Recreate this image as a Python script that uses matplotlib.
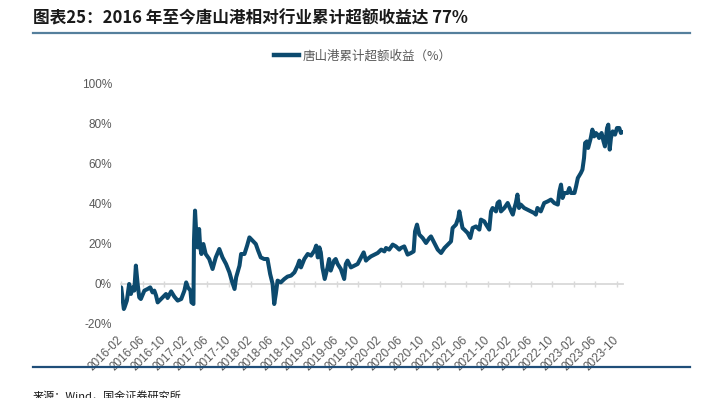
import matplotlib
matplotlib.use("Agg")
import matplotlib.pyplot as plt
import matplotlib.dates as mdates
from matplotlib.lines import Line2D
import pandas as pd

dates = [
    "2016-02-01", "2016-02-16", "2016-02-20", "2016-03-04", "2016-03-17", "2016-03-27",
    "2016-04-06", "2016-04-15", "2016-04-24", "2016-05-04", "2016-05-13", "2016-05-22",
    "2016-06-11", "2016-06-29", "2016-07-14", "2016-07-27", "2016-08-06", "2016-08-16",
    "2016-08-25", "2016-09-13", "2016-09-22", "2016-10-11", "2016-10-20", "2016-11-09",
    "2016-11-27", "2016-12-16", "2017-01-05", "2017-01-23", "2017-02-02", "2017-02-12",
    "2017-02-26", "2017-03-04", "2017-03-15", "2017-03-18", "2017-03-24", "2017-03-30",
    "2017-04-07", "2017-04-16", "2017-04-22", "2017-04-29", "2017-05-10", "2017-05-23",
    "2017-06-12", "2017-07-01", "2017-07-19", "2017-08-08", "2017-08-26", "2017-09-15",
    "2017-10-04", "2017-10-17", "2017-11-02", "2017-11-11", "2017-11-30", "2017-12-09",
    "2017-12-28", "2018-01-12", "2018-01-25", "2018-02-14", "2018-03-02", "2018-03-15",
    "2018-03-30", "2018-04-18", "2018-05-07", "2018-05-22", "2018-06-05", "2018-06-14",
    "2018-06-23", "2018-07-03", "2018-07-21", "2018-08-10", "2018-08-28", "2018-09-17",
    "2018-10-06", "2018-10-24", "2018-11-03", "2018-11-12", "2018-12-01", "2018-12-20",
    "2019-01-08", "2019-01-27", "2019-02-06", "2019-02-15", "2019-02-24", "2019-03-04",
    "2019-03-13", "2019-03-26", "2019-04-11", "2019-04-20", "2019-04-29", "2019-05-18",
    "2019-05-27", "2019-06-07", "2019-06-25", "2019-07-14", "2019-07-23", "2019-08-02",
    "2019-08-21", "2019-09-10", "2019-09-28", "2019-10-17", "2019-11-01", "2019-11-14",
    "2019-11-23", "2019-12-12", "2020-01-01", "2020-01-19", "2020-02-08", "2020-02-26",
    "2020-03-06", "2020-03-24", "2020-04-13", "2020-05-01", "2020-05-20", "2020-05-29",
    "2020-06-17", "2020-07-06", "2020-07-25", "2020-08-09", "2020-08-17", "2020-08-28",
    "2020-09-10", "2020-09-29", "2020-10-18", "2020-11-06", "2020-11-15", "2020-12-04",
    "2020-12-23", "2021-01-11", "2021-01-30", "2021-02-18", "2021-03-08", "2021-03-17",
    "2021-04-05", "2021-04-18", "2021-04-24", "2021-05-03", "2021-05-12", "2021-05-22",
    "2021-06-10", "2021-06-25", "2021-07-08", "2021-07-27", "2021-08-15", "2021-08-24",
    "2021-09-12", "2021-09-22", "2021-10-10", "2021-10-20", "2021-10-29", "2021-11-17",
    "2021-11-26", "2021-12-06", "2021-12-15", "2022-01-03", "2022-01-22", "2022-02-11",
    "2022-02-20", "2022-03-01", "2022-03-09", "2022-03-18", "2022-03-27", "2022-04-06",
    "2022-04-25", "2022-05-13", "2022-06-02", "2022-06-20", "2022-06-30", "2022-07-09",
    "2022-07-28", "2022-08-16", "2022-09-05", "2022-09-23", "2022-10-12", "2022-11-01",
    "2022-11-10", "2022-11-19", "2022-11-28", "2022-12-08", "2022-12-26", "2023-01-05",
    "2023-01-14", "2023-02-03", "2023-02-12", "2023-02-22", "2023-03-11", "2023-03-20",
    "2023-03-29", "2023-04-04", "2023-04-14", "2023-04-21", "2023-05-06", "2023-05-15",
    "2023-05-25", "2023-06-04", "2023-06-13", "2023-06-22", "2023-07-06", "2023-07-17",
    "2023-07-25", "2023-08-06", "2023-08-13", "2023-08-21", "2023-08-28", "2023-09-07",
    "2023-09-20", "2023-10-01", "2023-10-14", "2023-10-23", "2023-11-02",
]

excess_return = [
    -1.7, -12.5, -11.7, -8.3, 0.0, -5.0,
    -1.7, -3.3, 9.2, 0.0, -6.7, -7.5,
    -3.3, -2.5, -1.7, -4.2, -3.3, -5.8,
    -9.2, -7.5, -6.7, -5.0, -7.0, -3.7,
    -6.3, -8.3, -7.5, -3.3, 0.8, -1.7,
    -3.3, -9.2, -10.0, 21.7, 36.7, 26.7,
    18.3, 27.5, 18.3, 15.0, 20.0, 15.0,
    12.5, 7.5, 13.3, 17.5, 13.3, 10.0,
    5.8, 1.7, -2.5, 3.3, 9.2, 15.0,
    15.0, 19.2, 23.3, 21.5, 20.0, 16.7,
    13.3, 12.5, 12.5, 5.0, 0.0, -10.0,
    -5.0, 1.7, 0.8, 2.5, 3.7, 4.2,
    5.8, 9.2, 11.7, 8.3, 12.5, 15.0,
    14.2, 16.7, 19.2, 13.3, 18.3, 15.8,
    8.3, 2.5, 8.3, 12.5, 6.7, 11.7,
    12.5, 10.0, 7.5, 2.5, 10.0, 11.7,
    8.3, 9.2, 10.0, 13.3, 15.8, 11.7,
    12.5, 13.8, 14.7, 15.5, 17.2, 16.3,
    18.0, 17.2, 19.7, 18.8, 17.2, 18.0,
    18.8, 14.7, 15.5, 16.3, 26.3, 29.7,
    24.7, 23.0, 20.5, 23.0, 23.8, 20.5,
    17.2, 15.5, 18.0, 19.7, 21.3, 28.0,
    29.7, 33.0, 36.3, 32.2, 28.0, 27.2,
    25.5, 23.0, 28.0, 28.8, 27.2, 32.2,
    31.3, 29.7, 27.2, 36.3, 38.0, 36.3,
    40.5, 41.3, 36.3, 38.0, 40.5, 36.3,
    34.7, 38.0, 40.5, 44.7, 38.0, 39.7,
    38.0, 37.2, 36.3, 35.5, 34.7, 38.0,
    36.3, 40.5, 41.3, 42.2, 40.5, 39.7,
    46.3, 49.7, 43.0, 45.5, 45.5, 48.0,
    45.5, 45.5, 48.8, 53.0, 55.5, 57.2,
    63.0, 70.5, 71.3, 68.0, 73.0, 77.2,
    73.8, 75.5, 74.7, 73.0, 75.5, 71.3,
    68.8, 78.0, 79.7, 67.2, 73.0, 76.3,
    74.7, 78.0, 78.0, 75.5, 76.0,
]

x_tick_dates = [
    "2016-02-01", "2016-06-01", "2016-10-01", "2017-02-01", "2017-06-01", "2017-10-01",
    "2018-02-01", "2018-06-01", "2018-10-01", "2019-02-01", "2019-06-01", "2019-10-01",
    "2020-02-01", "2020-06-01", "2020-10-01", "2021-02-01", "2021-06-01", "2021-10-01",
    "2022-02-01", "2022-06-01", "2022-10-01", "2023-02-01", "2023-06-01", "2023-10-01",
]
x_tick_labels = [d[:7] for d in x_tick_dates]
y_ticks = [-20, 0, 20, 40, 60, 80, 100]
y_tick_labels = ["-20%", "0%", "20%", "40%", "60%", "80%", "100%"]
series_name = "唐山港累计超额收益（%）"
title_text = "图表25：2016 年至今唐山港相对行业累计超额收益达 77%"
source_text = "来源：Wind，国金证券研究所"

x = pd.to_datetime(dates)
xt = pd.to_datetime(x_tick_dates)

LINE_COLOR = "#0c4a6e"
GREY = "#595959"
CJK = ["Noto Sans CJK SC", "DejaVu Sans"]
LAT = ["Liberation Sans", "DejaVu Sans"]

fig = plt.figure(figsize=(7.04, 3.98), dpi=100)
ax = fig.add_axes([121 / 704, 1 - 324 / 398, (623 - 121) / 704, (324 - 84) / 398])

ax.plot(x, excess_return, color=LINE_COLOR, lw=2.9, solid_joinstyle="round",
        solid_capstyle="round", zorder=3)

ax.set_xlim(pd.Timestamp("2016-01-31"), pd.Timestamp("2023-11-04"))
ax.set_ylim(-20, 100)
ax.set_yticks(y_ticks)
ax.set_yticklabels(y_tick_labels, family=LAT, fontsize=8.5, color=GREY)
ax.tick_params(axis="y", length=0, pad=6.5)

for s in ["top", "right", "left", "bottom"]:
    ax.spines[s].set_visible(False)

# date labels below the plot
ax.set_xticks(xt)
ax.set_xticklabels(x_tick_labels, rotation=45, ha="right", va="center",
                   rotation_mode="anchor", fontsize=8.5, color=GREY, family=LAT)
ax.tick_params(axis="x", length=0, pad=10.5)

# zero line with tick marks
zero_frac = (0 - (-20)) / (100 - (-20))
sec = ax.secondary_xaxis(zero_frac)
sec.set_xticks(mdates.date2num(xt))
sec.spines["bottom"].set_color("#d9d9d9")
sec.spines["bottom"].set_linewidth(1.3)
sec.tick_params(axis="x", direction="inout", length=5, width=1, color="#d9d9d9",
                labelbottom=False)
sec.set_zorder(0)

handle = Line2D([0], [0], color=LINE_COLOR, lw=3.2)
fig.legend([handle], [series_name], loc="center", bbox_to_anchor=(0.515, 1 - 56 / 398),
           frameon=False, prop={"family": CJK, "size": 9}, handlelength=2.0,
           handletextpad=0.3, borderpad=0, labelcolor=GREY)

fig.text(33 / 704, 1 - 18 / 398, title_text, family=CJK, fontsize=12, fontweight="bold",
         fontstyle="italic", color="#1a1a1a", ha="left", va="center")
fig.add_artist(Line2D([33 / 704, 690 / 704], [1 - 33 / 398, 1 - 33 / 398],
                      color="#557f9c", lw=1.6))
fig.add_artist(Line2D([33 / 704, 690 / 704], [1 - 367 / 398, 1 - 367 / 398],
                      color="#1f4e79", lw=1.6))
fig.text(33 / 704, 1 - 391 / 398, source_text, family=CJK, fontsize=8, color="#1a1a1a",
         ha="left", va="top")

fig.savefig("out.png", dpi=100)
